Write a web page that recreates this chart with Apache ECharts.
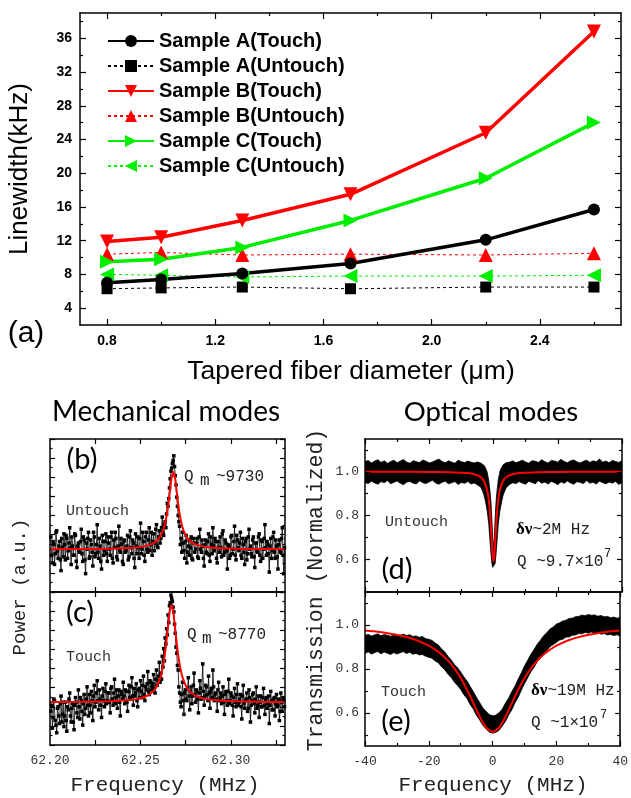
<!DOCTYPE html>
<html><head><meta charset="utf-8">
<script src="https://cdn.jsdelivr.net/npm/echarts@6/dist/echarts.min.js"></script>
<style>html,body{margin:0;padding:0;background:#fff}#c{width:631px;height:798px}</style>
</head><body><div id="c"></div><script>
// ---------- panel (a) data ----------
const diameters = [0.8, 1.0, 1.3, 1.7, 2.2, 2.6];
const aTouch   = [7.0, 7.4, 8.1, 9.3, 12.1, 15.7];
const aUntouch = [6.3, 6.4, 6.5, 6.3, 6.5, 6.5];
const bTouch   = [11.9, 12.4, 14.4, 17.5, 24.8, 36.8];
const bUntouch = [10.4, 10.6, 10.3, 10.4, 10.3, 10.5];
const cTouch   = [9.5, 9.8, 11.2, 14.4, 19.4, 26.0];
const cUntouch = [8.0, 7.9, 7.7, 7.8, 7.8, 7.9];
const xTicksA = [0.8, 1.2, 1.6, 2.0, 2.4];
const xMinorA = [1.0, 1.4, 1.8, 2.2, 2.6];
const yTicksA = [4, 8, 12, 16, 20, 24, 28, 32, 36];
const yMinorA = [6, 10, 14, 18, 22, 26, 30, 34, 38];

// ---------- mechanical modes (b),(c) ----------
// two interleaved sweeps: first at mechStart + i*step, second half a step later
const mechStart = 62.2005, mechStep = 0.0008;
const mechUntouch = [
 3.6,1.9,3.1,2.5,4.0,2.2,3.3,1.4,2.9,3.8, 2.1,3.5,2.7,4.2,1.8,3.0,2.4,3.7,1.6,3.2,
 2.6,4.1,2.0,3.4,1.2,2.8,3.9,2.3,3.1,1.7, 3.6,2.5,4.4,2.2,3.0,1.5,3.3,2.7,3.8,2.0,
 3.2,2.4,3.9,1.9,2.9,3.5,2.1,4.3,2.6,3.1, 1.8,3.4,2.7,3.7,2.3,4.0,2.5,3.2,1.6,3.0,
 3.6,2.2,4.5,2.8,3.3,2.0,3.9,2.6,4.2,3.1, 2.4,3.8,3.2,4.4,2.9,4.0,3.5,4.9,3.7,4.6,
 5.1,5.6,6.8,7.9,8.4,8.9,7.6,6.2,5.0,4.3, 3.5,3.9,2.7,3.3,1.9,3.0,2.4,3.6,2.1,3.2,
 2.8,3.5,2.2,4.1,2.6,3.0,1.7,3.4,2.5,3.8, 2.0,3.1,4.2,2.7,3.3,1.9,2.9,3.6,2.3,4.0,
 2.6,3.2,1.5,3.0,2.4,3.7,2.8,4.3,2.1,3.4, 2.7,3.9,2.2,3.1,1.8,3.5,2.5,4.1,3.0,2.3,
 3.6,1.6,3.2,2.6,3.8,2.0,3.3,2.8,4.4,2.4, 3.1,1.3,3.5,2.7,3.9,2.2,3.0,1.5,3.4,2.6,4.2,1.2];
const mechUntouch2 = [
 2.4,3.3,1.8,3.9,2.7,3.0,2.1,3.5,2.3,3.1, 3.7,2.2,3.2,2.9,3.6,2.4,3.8,2.0,3.0,2.7,
 3.3,2.5,3.6,2.1,3.2,3.5,2.2,3.4,2.6,3.9, 2.3,3.1,2.6,3.5,2.0,3.7,2.4,3.3,2.5,3.6,
 2.8,3.6,2.2,3.4,3.9,2.3,3.0,2.7,3.5,2.0, 3.3,2.6,3.0,2.1,3.6,2.9,3.4,2.2,3.8,2.5,
 2.9,3.5,2.5,3.9,2.4,3.6,2.8,3.4,2.7,3.9, 3.3,2.7,4.1,3.0,3.6,3.2,4.2,3.9,4.4,4.2,
 5.8,6.1,7.4,8.1,8.6,8.2,7.0,5.6,4.6,3.1, 2.6,3.2,2.2,3.7,2.6,3.4,2.9,2.2,3.5,2.6,
 3.2,2.3,3.6,2.8,3.4,2.2,3.1,2.6,3.3,2.4, 3.6,2.5,3.0,3.5,2.2,3.3,2.6,2.9,3.8,2.4,
 3.4,2.7,3.1,2.2,3.6,2.5,3.3,2.4,3.7,2.9, 3.2,2.4,3.5,2.6,3.3,2.1,3.6,2.8,2.5,3.4,
 2.3,3.2,2.7,3.6,2.4,3.4,2.2,3.5,2.9,3.3, 2.5,3.0,2.2,3.6,2.6,3.4,2.3,3.1,2.7,3.5,2.4,2.9];
const mechTouch = [
 2.2,1.1,3.0,1.6,0.8,2.5,1.4,3.2,2.0,1.2, 2.8,0.9,2.3,3.4,1.5,2.7,1.0,3.1,2.1,3.6,
 1.7,2.9,1.3,3.3,2.4,3.8,1.9,2.6,3.5,1.6, 3.9,2.8,4.2,2.3,3.0,1.8,3.7,2.5,4.0,2.9,
 3.4,2.1,3.8,2.6,4.3,3.1,2.4,3.6,1.9,3.3, 4.1,2.7,3.5,2.2,3.9,3.0,4.4,2.6,3.2,4.0,
 2.5,3.7,4.2,3.1,4.5,2.9,3.6,4.8,3.3,4.1, 3.8,4.6,3.4,4.9,4.2,5.4,4.7,5.8,6.3,7.0,
 7.6,8.5,9.1,9.8,9.4,8.7,7.3,6.0,4.9,3.4, 2.5,4.1,2.0,3.6,2.9,4.4,2.3,3.8,3.2,4.7,
 2.8,3.5,2.1,4.2,3.0,5.3,2.6,3.9,3.3,4.5, 2.4,3.7,4.9,2.9,3.4,2.2,4.1,3.1,2.7,3.8,
 2.0,3.5,2.6,4.3,2.9,3.2,1.9,3.7,2.5,4.0, 2.8,3.3,1.7,3.9,2.4,3.0,2.2,3.6,1.5,2.9,
 3.4,2.1,3.8,2.6,1.8,3.2,2.5,3.7,2.0,3.1, 2.7,1.4,3.5,2.3,3.0,1.9,3.3,2.6,1.6,3.4,2.2,2.9];
const mechTouch2 = [
 2.6,1.8,2.9,1.3,2.4,1.9,2.7,1.5,2.8,1.9, 1.6,2.5,3.0,1.9,2.4,1.5,2.6,2.8,1.8,2.5,
 3.1,2.2,2.7,2.0,3.0,2.6,3.3,2.1,2.9,3.2, 2.5,3.4,2.9,3.6,2.6,3.2,2.9,3.5,2.7,3.4,
 2.8,3.7,3.0,3.4,2.7,3.6,3.2,2.8,3.5,3.0, 3.2,3.6,2.8,3.5,3.1,3.8,3.2,3.7,3.4,2.9,
 3.6,3.1,3.5,3.9,3.3,3.8,4.0,3.5,4.2,3.6, 4.0,3.7,4.3,3.9,4.5,4.1,4.3,5.1,5.5,6.6,
 7.2,8.0,9.3,9.6,9.0,7.9,6.4,5.2,3.8,2.8, 3.3,2.9,3.4,3.0,3.7,3.2,3.5,2.7,3.9,3.3,
 3.6,3.0,3.4,3.7,3.1,3.5,3.2,3.8,2.9,3.4, 3.5,3.1,3.8,3.3,3.0,3.6,2.9,3.4,3.2,2.8,
 3.3,2.9,3.5,2.7,3.4,2.6,3.1,2.8,3.3,2.6, 3.0,2.5,3.2,2.7,2.9,3.4,2.4,3.1,2.6,3.3,
 2.7,3.0,2.4,3.2,2.8,2.5,3.1,2.6,3.0,2.4, 3.2,2.6,2.9,2.3,3.1,2.7,2.5,3.0,2.2,2.8,3.1,2.5];
const fitUntouchX = [62.200,62.2182,62.2332,62.2432,62.2502,62.2552,62.2582,62.2602,62.2622,62.2632,62.2642,62.2652,62.2662,62.2672,62.2682,
 62.2692,62.2702,62.2712,62.2722,62.2732,62.2742,62.2762,62.2782,62.2812,62.2862,62.2932,62.3032,62.3182,62.330];
const fitUntouchY = [2.80,2.81,2.83,2.87,2.95,3.08,3.26,3.49,3.91,4.26,4.77,5.49,6.44,7.41,7.86,
 7.41,6.44,5.49,4.77,4.26,3.91,3.49,3.26,3.08,2.95,2.87,2.83,2.81,2.80];
const fitTouchX = [62.200,62.2172,62.2322,62.2422,62.2492,62.2542,62.2572,62.2592,62.2612,62.2622,62.2632,62.2642,62.2652,62.2662,62.2672,
 62.2682,62.2692,62.2702,62.2712,62.2722,62.2732,62.2752,62.2772,62.2802,62.2852,62.2922,62.3022,62.3172,62.330];
const fitTouchY = [2.81,2.82,2.86,2.92,3.03,3.24,3.52,3.86,4.47,4.96,5.64,6.54,7.65,8.69,9.15,
 8.69,7.65,6.54,5.64,4.96,4.47,3.86,3.52,3.24,3.03,2.92,2.86,2.82,2.81];
const mechTickVals = [62.225, 62.25, 62.275, 62.30, 62.325];
const mechLabelVals = [62.20, 62.25, 62.30];

// ---------- optical modes (d),(e) ----------
const dFreq = [-40,-39,-38,-37,-36,-35,-34,-33,-32,-31,-30,-29,-28,-27,-26,-25,-24,-23,-22,-21,-20,-19,-18,-17,-16,-15,-14,-13,-12,-11,-10,-9,-8,-7,-6,-5,
 -4,-3.5,-3,-2.5,-2,-1.5,-1.25,-1,-0.75,-0.5,-0.25,0,0.25,0.5,0.75,1,1.25,1.5,2,2.5,3,3.5,4,
 5,6,7,8,9,10,11,12,13,14,15,16,17,18,19,20,21,22,23,24,25,26,27,28,29,30,31,32,33,34,35,36,37,38,39,40];
const dLow = [0.951,0.946,0.957,0.949,0.943,0.955,0.950,0.960,0.945,0.952,0.958,0.947,0.941,0.953,0.956,0.948,0.944,0.959,0.950,0.946,
 0.954,0.961,0.949,0.943,0.952,0.957,0.945,0.950,0.955,0.942,0.951,0.947,0.956,0.944,0.949,0.940,
 0.930,0.915,0.895,0.865,0.825,0.765,0.715,0.665,0.620,0.582,0.563,0.556,0.562,0.580,0.618,0.662,0.712,0.762,0.822,0.862,0.893,0.912,0.928,
 0.942,0.950,0.946,0.955,0.948,0.943,0.957,0.951,0.945,0.959,0.948,0.953,0.944,0.956,0.950,0.941,0.954,0.947,0.958,0.949,
 0.943,0.955,0.951,0.946,0.960,0.948,0.952,0.944,0.957,0.950,0.945,0.953,0.948,0.956,0.942,0.951];
const dHigh = [1.046,1.052,1.040,1.049,1.055,1.043,1.050,1.038,1.047,1.053,1.041,1.049,1.056,1.044,1.039,1.051,1.046,1.042,1.054,1.048,
 1.040,1.045,1.052,1.058,1.047,1.041,1.050,1.044,1.039,1.053,1.046,1.042,1.049,1.044,1.040,1.045,
 1.040,1.035,1.030,1.018,1.000,0.962,0.930,0.898,0.850,0.780,0.700,0.655,0.700,0.780,0.852,0.900,0.932,0.965,1.002,1.020,1.032,1.037,1.042,
 1.044,1.050,1.041,1.047,1.053,1.045,1.039,1.051,1.048,1.043,1.055,1.046,1.040,1.052,1.049,1.044,1.057,1.047,1.041,1.050,
 1.054,1.045,1.040,1.048,1.053,1.043,1.050,1.046,1.058,1.044,1.049,1.041,1.052,1.047,1.043,1.050];
const dFitX = [-40,-30,-20,-14,-10,-8,-6,-5,-4,-3.5,-3,-2.5,-2,-1.75,-1.5,-1.25,-1,-0.75,-0.5,-0.25,0,
 0.25,0.5,0.75,1,1.25,1.5,1.75,2,2.5,3,3.5,4,5,6,8,10,14,20,30,40];
const dFitY = [1.0,1.0,0.999,0.998,0.996,0.994,0.989,0.984,0.976,0.969,0.959,0.941,0.918,0.899,0.874,0.84,0.795,0.738,0.672,0.614,0.59,
 0.614,0.672,0.738,0.795,0.84,0.874,0.899,0.918,0.941,0.959,0.969,0.976,0.984,0.989,0.994,0.996,0.998,0.999,1.0,1.0];
const eFreq = [-40,-39,-38,-37,-36,-35,-34,-33,-32,-31,-30,-29,-28,-27,-26,-25,-24,-23,-22,-21,-20,-19,-18,-17,-16,-15,-14,-13,-12,-11,
 -10,-9,-8,-7,-6,-5,-4,-3,-2,-1,0,1,2,3,4,5,6,7,8,9,10,11,12,13,14,15,16,17,18,19,20,21,22,23,24,25,26,27,28,29,30,31,32,33,34,35,36,37,38,39,40];
const eLow = [0.870,0.878,0.868,0.874,0.880,0.869,0.877,0.872,0.866,0.875, 0.868,0.874,0.879,0.870,0.876,0.867,0.871,0.864,0.866,0.858,
 0.853,0.849,0.836,0.828,0.810,0.797,0.776,0.762,0.741,0.725, 0.707,0.683,0.665,0.638,0.617,0.588,0.567,0.543,0.527,0.513,
 0.508,0.512,0.520,0.540,0.561,0.590,0.614,0.646,0.671,0.703, 0.733,0.760,0.788,0.808,0.833,0.851,0.872,0.884,0.902,0.911,
 0.921,0.932,0.935,0.945,0.946,0.953,0.955,0.961,0.960,0.966, 0.963,0.968,0.962,0.965,0.958,0.961,0.955,0.957,0.952,0.956, 0.950];
const eHigh = [0.952,0.958,0.950,0.955,0.960,0.951,0.957,0.953,0.949,0.956, 0.950,0.953,0.958,0.952,0.956,0.948,0.950,0.944,0.948,0.938,
 0.935,0.930,0.918,0.909,0.891,0.878,0.858,0.842,0.821,0.806, 0.786,0.764,0.745,0.720,0.696,0.670,0.646,0.622,0.607,0.592,
 0.588,0.590,0.601,0.617,0.644,0.667,0.697,0.722,0.753,0.782, 0.814,0.840,0.867,0.889,0.913,0.931,0.951,0.965,0.982,0.991,
 1.004,1.010,1.018,1.022,1.030,1.031,1.038,1.039,1.045,1.042, 1.048,1.044,1.046,1.040,1.043,1.037,1.039,1.033,1.036,1.031, 1.034];
const eFitX = [-40,-36,-32,-28,-24,-20,-18,-16,-14,-12,-10,-8,-6,-4,-2,0,2,4,6,8,10,12,14,16,18,20,24,28,32,36,40];
const eFitY = [0.975,0.969,0.960,0.949,0.932,0.906,0.888,0.866,0.838,0.803,0.759,0.705,0.644,0.582,0.533,0.514,
 0.533,0.582,0.644,0.705,0.759,0.803,0.838,0.866,0.888,0.906,0.932,0.949,0.960,0.969,0.975];
const optTickVals = [0.6, 0.8, 1.0];
const optMinorVals = [0.5, 0.7, 0.9, 1.1];

// ---------- helpers ----------
const SANS = '"Liberation Sans", Arial, sans-serif';
const MONO = '"Liberation Mono", "Courier New", monospace';
const LINE = {color:'#000', width:1.5};
const TICK = {color:'#000', width:1.2};
const xAxes = [], yAxes = [];
function ax(g, pos, r, extra) {
  return Object.assign({type:'value', gridIndex:g, position:pos, min:r[0], max:r[1], z:5,
    axisLine:{show:false, onZero:false, lineStyle:LINE},
    axisTick:{show:false}, axisLabel:{show:false}, splitLine:{show:false},
    minorTick:{show:false}, minorSplitLine:{show:false}}, extra || {});
}
function withLine(o){ o.axisLine = {show:true, onZero:false, lineStyle:LINE}; return o; }
function customTicks(vals, len){ return {show:true, inside:true, length:len, lineStyle:TICK, customValues:vals}; }
function push(arr, o){ arr.push(o); return arr.length - 1; }

const xrA = [0.7, 2.7], yrA = [2, 39];
const labA = {fontFamily:SANS, fontWeight:'bold', fontSize:14, color:'#000'};
const XA = push(xAxes, withLine(ax(0,'bottom',xrA,{axisTick:customTicks(xTicksA,6),
  axisLabel:Object.assign({show:true, customValues:xTicksA, margin:9, formatter:v=>v.toFixed(1)}, labA)})));
push(xAxes, ax(0,'bottom',xrA,{axisTick:customTicks(xMinorA,3)}));
push(xAxes, withLine(ax(0,'top',xrA,{axisTick:customTicks(xTicksA,6)})));
push(xAxes, ax(0,'top',xrA,{axisTick:customTicks(xMinorA,3)}));
const YA = push(yAxes, withLine(ax(0,'left',yrA,{axisTick:customTicks(yTicksA,6),
  axisLabel:Object.assign({show:true, customValues:yTicksA, margin:8}, labA)})));
push(yAxes, ax(0,'left',yrA,{axisTick:customTicks(yMinorA,3)}));
push(yAxes, withLine(ax(0,'right',yrA,{axisTick:customTicks(yTicksA,6)})));
push(yAxes, ax(0,'right',yrA,{axisTick:customTicks(yMinorA,3)}));

const xrM = [62.20, 62.33], yrM = [0, 10];
const labMono = {fontFamily:MONO, fontSize:13, color:'#333'};
function mechY(g){
  const o = {interval:1.25, axisTick:{show:true, inside:true, length:5, lineStyle:TICK},
    minorTick:{show:true, splitNumber:2, length:2.5, lineStyle:TICK}};
  const i = push(yAxes, withLine(ax(g,'left',yrM,Object.assign({},o))));
  push(yAxes, withLine(ax(g,'right',yrM,Object.assign({},o))));
  return i;
}
const XB = push(xAxes, withLine(ax(1,'bottom',xrM,{axisTick:customTicks(mechTickVals,5)})));
push(xAxes, withLine(ax(1,'top',xrM,{axisTick:customTicks(mechTickVals,5)})));
const YB = mechY(1);
const XC = push(xAxes, withLine(ax(2,'bottom',xrM,{axisTick:customTicks(mechTickVals,5),
  axisLabel:Object.assign({show:true, customValues:mechLabelVals, margin:9, formatter:v=>v.toFixed(2)}, labMono)})));
push(xAxes, withLine(ax(2,'top',xrM,{axisTick:customTicks(mechTickVals,5)})));
const YC = mechY(2);

const xrO = [-40, 40], yrO = [0.45, 1.15];
function optX(g, pos, labels){
  const o = {interval:20, axisTick:{show:true, inside:true, length:5, lineStyle:TICK},
    minorTick:{show:true, splitNumber:2, length:3, lineStyle:TICK}};
  if (labels) o.axisLabel = Object.assign({show:true, margin:9}, labMono);
  return push(xAxes, withLine(ax(g,pos,xrO,o)));
}
function optY(g){
  const i = push(yAxes, withLine(ax(g,'left',yrO,{axisTick:customTicks(optTickVals,5),
    axisLabel:Object.assign({show:true, customValues:optTickVals, margin:6, formatter:v=>v.toFixed(1)}, labMono)})));
  push(yAxes, ax(g,'left',yrO,{axisTick:customTicks(optMinorVals,3)}));
  push(yAxes, withLine(ax(g,'right',yrO,{axisTick:customTicks(optTickVals,5)})));
  push(yAxes, ax(g,'right',yrO,{axisTick:customTicks(optMinorVals,3)}));
  return i;
}
const XD = optX(3,'bottom',false); optX(3,'top',false);
const YD = optY(3);
const XE = optX(4,'bottom',true); optX(4,'top',false);
const YE = optY(4);

// ---------- series ----------
const series = [];
const aStyles = [
  ['Sample A(Untouch)', aUntouch, '#000', 'rect', 11, 0, 1, [3,3]],
  ['Sample B(Untouch)', bUntouch, '#ff0000', 'triangle', 14, 0, 1, [3,3]],
  ['Sample C(Untouch)', cUntouch, '#00ee00', 'triangle', 14, 90, 1, [3,3]],
  ['Sample A(Touch)', aTouch, '#000', 'circle', 12, 0, 3.5, 'solid'],
  ['Sample B(Touch)', bTouch, '#ff0000', 'triangle', 14, 180, 3.5, 'solid'],
  ['Sample C(Touch)', cTouch, '#00ee00', 'triangle', 14, -90, 3.5, 'solid']
];
aStyles.forEach(s => series.push({type:'line', name:s[0], xAxisIndex:XA, yAxisIndex:YA,
  data: diameters.map((d,i)=>[d, s[1][i]]), symbol:s[3], symbolSize:s[4], symbolRotate:s[5],
  lineStyle:{color:s[2], width:s[6], type:s[7]}, itemStyle:{color:s[2]}, z:3}));

function mechSeries(v1, v2, fx, fy, xi, yi){
  const pts = [];
  v1.forEach((v,i)=>{ pts.push([mechStart + i*mechStep, v]); pts.push([mechStart + (i+0.5)*mechStep, v2[i]]); });
  series.push({type:'line', xAxisIndex:xi, yAxisIndex:yi, data: pts,
    symbol:'rect', symbolSize:3.5, lineStyle:{color:'#000', width:0.8}, itemStyle:{color:'#000'}, z:3});
  series.push({type:'line', xAxisIndex:xi, yAxisIndex:yi, data: fx.map((x,i)=>[x, fy[i]]),
    symbol:'none', smooth:0.2, lineStyle:{color:'#ff0000', width:2}, z:4});
}
mechSeries(mechUntouch, mechUntouch2, fitUntouchX, fitUntouchY, XB, YB);
mechSeries(mechTouch, mechTouch2, fitTouchX, fitTouchY, XC, YC);

// optical data band: upper envelope filled black down to the axis, lower envelope filled white
function optSeries(fr, lo, hi, fx, fy, xi, yi){
  series.push({type:'line', xAxisIndex:xi, yAxisIndex:yi, data: fr.map((x,i)=>[x, hi[i]]),
    symbol:'none', lineStyle:{color:'#000', width:0.8}, areaStyle:{color:'#000', opacity:1, origin:'start'}, z:1});
  series.push({type:'line', xAxisIndex:xi, yAxisIndex:yi, data: fr.map((x,i)=>[x, lo[i]]),
    symbol:'none', lineStyle:{color:'#000', width:0.8}, areaStyle:{color:'#fff', opacity:1, origin:'start'}, z:2});
  series.push({type:'line', xAxisIndex:xi, yAxisIndex:yi, data: fx.map((x,i)=>[x, fy[i]]),
    symbol:'none', smooth:0.2, lineStyle:{color:'#ff0000', width:2}, z:4});
}
optSeries(dFreq, dLow, dHigh, dFitX, dFitY, XD, YD);
optSeries(eFreq, eLow, eHigh, eFitX, eFitY, XE, YE);

// ---------- texts ----------
function T(text, x, y, size, fam, o){
  o = o || {};
  const st = {text, fontSize:size, fontFamily:fam, fontWeight:o.w||'normal', fill:o.c||'#000',
    align:o.a||'center', verticalAlign:'middle', textAlign:o.a||'center', textVerticalAlign:'middle'};
  if (o.rich) st.rich = o.rich;
  return {type:'text', x, y, rotation:o.rot||0, z:100, silent:true, style:st};
}
const LATO = 'Lato, "Open Sans", sans-serif';
const dnu = {g:{fontFamily:'"Liberation Serif", serif', fontWeight:'bold', fontSize:17, fill:'#000'},
             m:{fontFamily:MONO, fontSize:16, fill:'#222'}};
const graphic = [
  T('Linewidth(kHz)', 20, 169, 26, SANS, {rot:Math.PI/2}),
  T('(a)', 26, 334, 30, SANS),
  T('Tapered fiber diameter (\u03bcm)', 351, 372, 26.5, SANS),
  T('Mechanical modes', 166, 412, 28, LATO),
  T('Optical modes', 491, 412, 27.5, LATO),
  T('(b)', 82, 460, 29, LATO),
  T('(c)', 80, 613, 29, LATO),
  T('(d)', 397, 570, 29, LATO),
  T('(e)', 396, 722, 29, LATO),
  T('Power (a.u.)', 20, 587, 19, MONO, {rot:Math.PI/2, c:'#222'}),
  T('Transmission (Normalized)', 316, 590, 21.5, MONO, {rot:Math.PI/2, c:'#222'}),
  T('Frequency (MHz)', 165, 785, 21, MONO, {c:'#222'}),
  T('Frequency (MHz)', 493, 785, 21, MONO, {c:'#222'}),
  T('Untouch', 66, 511, 15, MONO, {a:'left', c:'#333'}),
  T('Touch', 66, 657, 15, MONO, {a:'left', c:'#333'}),
  T('Untouch', 385, 522, 15, MONO, {a:'left', c:'#333'}),
  T('Touch', 381, 692, 15, MONO, {a:'left', c:'#333'}),
  T('Q', 184, 477, 16, MONO, {a:'left', c:'#222'}),
  T('m', 200, 481, 16, MONO, {a:'left', c:'#222'}),
  T('~9730', 216, 477, 16, MONO, {a:'left', c:'#222'}),
  T('Q', 187, 635, 16, MONO, {a:'left', c:'#222'}),
  T('m', 202, 639, 16, MONO, {a:'left', c:'#222'}),
  T('~8770', 218, 635, 16, MONO, {a:'left', c:'#222'}),
  T('{g|\u03b4\u03bd}{m|~2M Hz}', 516, 530, 16, MONO, {a:'left', rich:dnu}),
  T('Q ~9.7\u00d710', 517, 562, 16, MONO, {a:'left', c:'#222'}),
  T('7', 604, 554, 12, MONO, {a:'left', c:'#222'}),
  T('{g|\u03b4\u03bd}{m|~19M Hz}', 531, 691, 16, MONO, {a:'left', rich:dnu}),
  T('Q ~1\u00d710', 531, 723, 16, MONO, {a:'left', c:'#222'}),
  T('7', 600, 715, 12, MONO, {a:'left', c:'#222'})
];

const option = {
  animation:false, backgroundColor:'#fff',
  grid:[
    {left:80, top:13, width:541, height:312},
    {left:50, top:439, width:235, height:153},
    {left:50, top:592, width:235, height:153},
    {left:365, top:439, width:257, height:153},
    {left:365, top:592, width:257, height:154}
  ],
  legend:{orient:'vertical', left:102, top:26, padding:5, itemWidth:46, itemHeight:15, itemGap:5, selectedMode:false,
    data:['Sample A(Touch)','Sample A(Untouch)','Sample B(Touch)','Sample B(Untouch)','Sample C(Touch)','Sample C(Untouch)'],
    textStyle:{fontFamily:SANS, fontWeight:'bold', fontSize:20, color:'#000'}},
  xAxis:xAxes, yAxis:yAxes, series, graphic
};
const chart = echarts.init(document.getElementById('c'), null, {renderer:'canvas'});
chart.setOption(option);
</script></body></html>
